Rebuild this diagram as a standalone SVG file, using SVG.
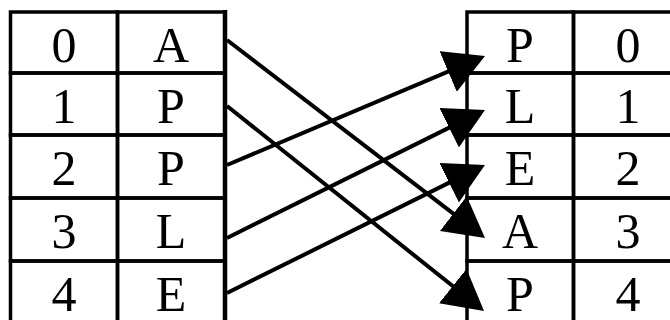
<svg xmlns="http://www.w3.org/2000/svg" width="670" height="320" viewBox="0 0 670 320">
<style>
.cell{fill:none;stroke:#000;stroke-width:3.5}
.t{font-family:"Liberation Serif","Times New Roman",serif;font-size:50px;fill:#000;text-anchor:middle}
.edge{stroke:#000;stroke-width:4.5;fill:none}
.conn{stroke:#000;stroke-width:4;fill:none;marker-end:url(#ah)}
</style>
<defs>
<marker id="ah" viewBox="0 0 40 44" refX="30" refY="22" markerWidth="40" markerHeight="44" markerUnits="userSpaceOnUse" orient="auto">
<path d="M0,0 L40,22 L0,44 z" fill="#000"/>
</marker>
</defs>
<rect width="670" height="320" fill="#fff"/>
<g id="left-table">
<g id="L0"><rect class="cell" x="10.5" y="12" width="107" height="61"/><rect class="cell" x="117.5" y="12" width="107.5" height="61"/><text class="t" x="64" y="61.5">0</text><text class="t" x="171" y="61.5">A</text></g>
<g id="L1"><rect class="cell" x="10.5" y="73" width="107" height="62"/><rect class="cell" x="117.5" y="73" width="107.5" height="62"/><text class="t" x="64" y="122.5">1</text><text class="t" x="171" y="122.5">P</text></g>
<g id="L2"><rect class="cell" x="10.5" y="135" width="107" height="63"/><rect class="cell" x="117.5" y="135" width="107.5" height="63"/><text class="t" x="64" y="184.5">2</text><text class="t" x="171" y="184.5">P</text></g>
<g id="L3"><rect class="cell" x="10.5" y="198" width="107" height="63"/><rect class="cell" x="117.5" y="198" width="107.5" height="63"/><text class="t" x="64" y="247.5">3</text><text class="t" x="171" y="247.5">L</text></g>
<g id="L4"><rect class="cell" x="10.5" y="261" width="107" height="63"/><rect class="cell" x="117.5" y="261" width="107.5" height="63"/><text class="t" x="64" y="310.5">4</text><text class="t" x="171" y="310.5">E</text></g>
<line class="edge" x1="225" y1="10" x2="225" y2="330"/>
</g>
<g id="right-table">
<g id="R0"><rect class="cell" x="467" y="12" width="106.5" height="61"/><rect class="cell" x="573.5" y="12" width="110" height="61"/><text class="t" x="520" y="61.5">P</text><text class="t" x="628" y="61.5">0</text></g>
<g id="R1"><rect class="cell" x="467" y="73" width="106.5" height="62"/><rect class="cell" x="573.5" y="73" width="110" height="62"/><text class="t" x="520" y="122.5">L</text><text class="t" x="628" y="122.5">1</text></g>
<g id="R2"><rect class="cell" x="467" y="135" width="106.5" height="63"/><rect class="cell" x="573.5" y="135" width="110" height="63"/><text class="t" x="520" y="184.5">E</text><text class="t" x="628" y="184.5">2</text></g>
<g id="R3"><rect class="cell" x="467" y="198" width="106.5" height="63"/><rect class="cell" x="573.5" y="198" width="110" height="63"/><text class="t" x="520" y="247.5">A</text><text class="t" x="628" y="247.5">3</text></g>
<g id="R4"><rect class="cell" x="467" y="261" width="106.5" height="63"/><rect class="cell" x="573.5" y="261" width="110" height="63"/><text class="t" x="520" y="310.5">P</text><text class="t" x="628" y="310.5">4</text></g>
</g>
<g id="connectors">
<line class="conn" x1="227" y1="40" x2="477.1" y2="231.9"/>
<line class="conn" x1="227" y1="106" x2="476.2" y2="304.8"/>
<line class="conn" x1="227" y1="165" x2="475.8" y2="59.9"/>
<line class="conn" x1="227" y1="238" x2="476" y2="114.4"/>
<line class="conn" x1="227" y1="293" x2="476" y2="169.4"/>
</g>
</svg>
